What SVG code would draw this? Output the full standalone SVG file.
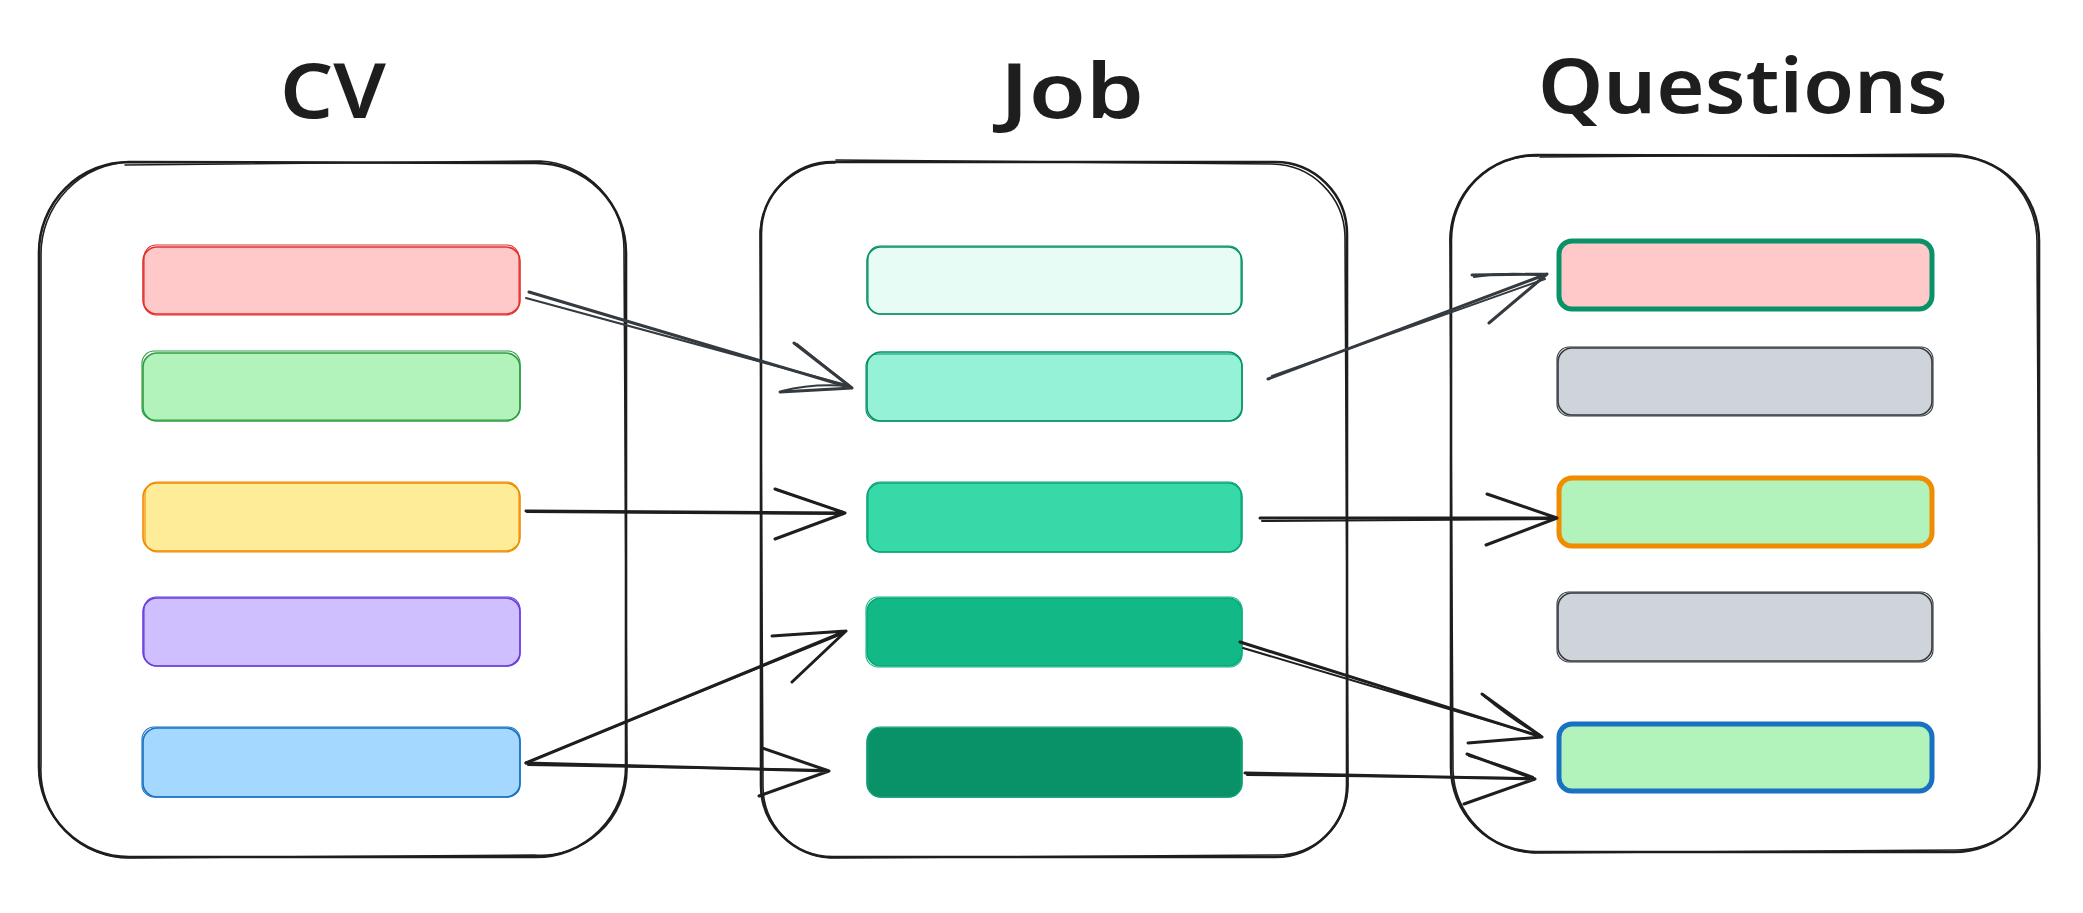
<svg xmlns="http://www.w3.org/2000/svg" width="2083" height="913" viewBox="0 0 2083 913">
  <style>
    .title { font-family: "Noto Sans", "Liberation Sans", sans-serif; font-size: 76px; fill: #1e1e1e; font-weight: 600; }
    .box { fill: none; stroke: #1e1e1e; stroke-width: 2.6; stroke-linecap: round; stroke-linejoin: round; }
    .box2 { fill: none; stroke: #1e1e1e; stroke-width: 1.6; stroke-linecap: round; stroke-linejoin: round; }
    .bar { stroke-width: 1.6; }
    .bar2 { fill: none; stroke-width: 1.1; }
    .thick { stroke-width: 5; }
    .arrow { fill: none; stroke: #1e1e1e; stroke-width: 3; stroke-linecap: round; stroke-linejoin: round; }
    .arrow2 { fill: none; stroke: #1e1e1e; stroke-width: 2; stroke-linecap: round; stroke-linejoin: round; }
    .gray { stroke: #343a40; }
  </style>

  <!-- Titles -->
  <g id="title-cv"><text class="title" x="333" y="118" text-anchor="middle" textLength="106" lengthAdjust="spacingAndGlyphs">CV</text></g>
  <g id="title-job"><text class="title" x="1072" y="118" text-anchor="middle" textLength="144" lengthAdjust="spacingAndGlyphs">Job</text></g>
  <g id="title-questions"><text class="title" x="1743" y="113" text-anchor="middle" textLength="410" lengthAdjust="spacingAndGlyphs">Questions</text></g>

  <!-- CV container -->
  <g id="cv">
    <path class="box" d="M129 162 L536 163 A90 90 0 0 1 626 253 L626 767 A90 90 0 0 1 536 857 L129 857 A90 90 0 0 1 39 767 L39 252 A90 90 0 0 1 129 162 Z"/>
    <path class="box2" d="M125 165 L540 161 A88 88 0 0 1 624 250 L627 770 A86 86 0 0 1 534 855 L132 858 A88 88 0 0 1 41 765 L41 255 A92 92 0 0 1 131 162"/>
    <g id="cv-1">
      <rect x="143" y="247" width="377" height="67" rx="14" fill="#ffc9c9" stroke="#e03131" class="bar"/>
      <rect x="144" y="245" width="375" height="70" rx="12" stroke="#e03131" class="bar2"/>
    </g>
    <g id="cv-2">
      <rect x="143" y="353" width="377" height="68" rx="14" fill="#b2f2bb" stroke="#2f9e44" class="bar"/>
      <rect x="142" y="351" width="378" height="69" rx="12" stroke="#2f9e44" class="bar2"/>
    </g>
    <g id="cv-3">
      <rect x="143" y="483" width="377" height="68" rx="14" fill="#ffec99" stroke="#f08c00" class="bar"/>
      <rect x="145" y="482" width="374" height="70" rx="12" stroke="#f08c00" class="bar2"/>
    </g>
    <g id="cv-4">
      <rect x="143" y="598" width="377" height="68" rx="14" fill="#d0bfff" stroke="#6741d9" class="bar"/>
      <rect x="144" y="597" width="376" height="69" rx="12" stroke="#6741d9" class="bar2"/>
    </g>
    <g id="cv-5">
      <rect x="143" y="728" width="377" height="69" rx="14" fill="#a5d8ff" stroke="#1971c2" class="bar"/>
      <rect x="142" y="727" width="378" height="70" rx="12" stroke="#1971c2" class="bar2"/>
    </g>
  </g>

  <!-- Job container -->
  <g id="job">
    <path class="box" d="M833 162 L1275 162 A72 72 0 0 1 1347 234 L1347 785 A72 72 0 0 1 1275 857 L833 857 A72 72 0 0 1 761 785 L761 234 A72 72 0 0 1 833 162 Z"/>
    <path class="box2" d="M836 160 L1272 164 A74 74 0 0 1 1345 236 L1348 783 A70 70 0 0 1 1277 855 L830 858 A72 72 0 0 1 763 787 L760 231 A74 74 0 0 1 835 163"/>
    <g id="job-1">
      <rect x="867" y="247" width="375" height="67" rx="14" fill="#e6fcf5" stroke="#099268" class="bar"/>
      <rect x="868" y="246" width="373" height="68" rx="12" stroke="#099268" class="bar2"/>
    </g>
    <g id="job-2">
      <rect x="867" y="352" width="375" height="69" rx="14" fill="#96f2d7" stroke="#099268" class="bar"/>
      <rect x="866" y="354" width="376" height="67" rx="12" stroke="#099268" class="bar2"/>
    </g>
    <g id="job-3">
      <rect x="867" y="483" width="375" height="69" rx="14" fill="#38d9a9" stroke="#0ca678" class="bar"/>
      <rect x="868" y="482" width="373" height="70" rx="12" stroke="#0ca678" class="bar2"/>
    </g>
    <g id="job-4">
      <rect x="867" y="598" width="375" height="68" rx="14" fill="#12b886" stroke="#0ca678" class="bar"/>
      <rect x="866" y="597" width="376" height="70" rx="12" stroke="#12b886" class="bar2"/>
    </g>
    <g id="job-5">
      <rect x="867" y="728" width="375" height="69" rx="14" fill="#099268" stroke="#099268" class="bar"/>
      <rect x="868" y="727" width="373" height="70" rx="12" stroke="#0ca678" class="bar2"/>
    </g>
  </g>

  <!-- Questions container -->
  <g id="questions">
    <path class="box" d="M1536 155 L1954 156 A85 85 0 0 1 2039 241 L2039 767 A85 85 0 0 1 1954 852 L1536 852 A85 85 0 0 1 1451 767 L1451 240 A85 85 0 0 1 1536 155 Z"/>
    <path class="box2" d="M1540 157 L1950 154 A88 88 0 0 1 2037 244 L2040 765 A83 83 0 0 1 1957 850 L1533 853 A86 86 0 0 1 1453 770 L1450 244 A84 84 0 0 1 1538 156"/>
    <g id="q-1">
      <rect x="1559" y="241" width="373" height="68" rx="13" fill="#ffc9c9" stroke="#099268" class="thick"/>
    </g>
    <g id="q-2">
      <rect x="1558" y="348" width="374" height="67" rx="14" fill="#ced4da" stroke="#343a40" class="bar"/>
      <rect x="1557" y="347" width="376" height="69" rx="12" stroke="#343a40" class="bar2"/>
    </g>
    <g id="q-3">
      <rect x="1559" y="478" width="373" height="68" rx="13" fill="#b2f2bb" stroke="#f08c00" class="thick"/>
    </g>
    <g id="q-4">
      <rect x="1558" y="593" width="374" height="68" rx="14" fill="#ced4da" stroke="#343a40" class="bar"/>
      <rect x="1557" y="592" width="376" height="70" rx="12" stroke="#343a40" class="bar2"/>
    </g>
    <g id="q-5">
      <rect x="1559" y="724" width="373" height="67" rx="13" fill="#b2f2bb" stroke="#1971c2" class="thick"/>
    </g>
  </g>

  <!-- Connectors -->
  <g id="connectors">
    <!-- CV red -> Job 2 -->
    <g id="a1">
      <path class="arrow gray" d="M529 292 L852 388 M794 343 L852 388 L780 392"/>
      <path class="arrow2 gray" d="M526 298 L850 386 M797 344 Q832 372 850 386 Q812 383 782 391"/>
    </g>
    <!-- CV yellow -> Job 3 -->
    <g id="a2">
      <path class="arrow" d="M526 511 L845 513 M775 489 L845 513 L775 539"/>
      <path class="arrow2" d="M527 512 L843 514 M777 490 L843 512"/>
    </g>
    <!-- CV blue -> Job 4 -->
    <g id="a3">
      <path class="arrow" d="M526 763 L846 631 M772 636 L846 631 L792 682"/>
      <path class="arrow2" d="M528 762 L844 633"/>
    </g>
    <!-- CV blue -> Job 5 -->
    <g id="a4">
      <path class="arrow" d="M526 763 L829 771 M762 748 L829 771 L759 796"/>
      <path class="arrow2" d="M528 765 L827 770"/>
    </g>
    <!-- Job 2 -> Q1 -->
    <g id="a5">
      <path class="arrow gray" d="M1268 379 L1547 274 M1472 275 L1547 274 L1489 323"/>
      <path class="arrow2 gray" d="M1272 376 L1545 279 M1474 277 Q1510 271 1545 276"/>
    </g>
    <!-- Job 3 -> Q3 -->
    <g id="a6">
      <path class="arrow" d="M1260 518 L1557 518 M1487 494 L1557 518 L1486 545"/>
      <path class="arrow2" d="M1262 521 L1555 519"/>
    </g>
    <!-- Job 4 -> Q5 -->
    <g id="a7">
      <path class="arrow" d="M1240 642 L1542 737 M1482 694 L1542 737 L1468 743"/>
      <path class="arrow2" d="M1243 648 L1540 736 M1484 696 Q1515 722 1540 735"/>
    </g>
    <!-- Job 5 -> Q5 -->
    <g id="a8">
      <path class="arrow" d="M1245 773 L1535 779 M1467 754 L1535 779 L1464 804"/>
      <path class="arrow2" d="M1247 775 L1533 778 M1469 756 Q1500 764 1533 777"/>
    </g>
  </g>
</svg>
